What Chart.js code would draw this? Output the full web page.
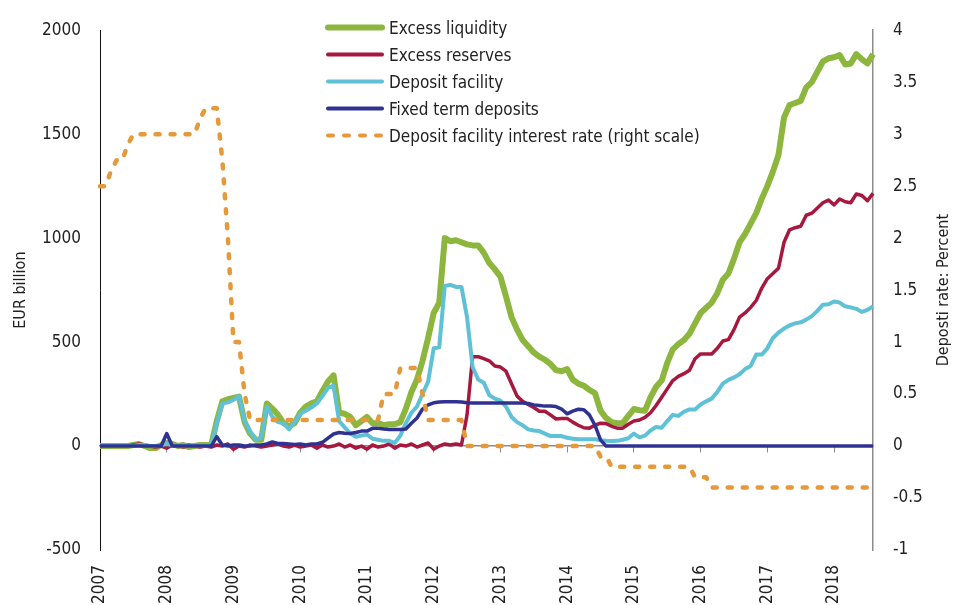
<!DOCTYPE html>
<html><head><meta charset="utf-8">
<script src="https://cdn.jsdelivr.net/npm/chart.js@4"></script>
<style>
html,body{margin:0;padding:0;background:#fff;}
#wrap{position:relative;width:954px;height:605px;overflow:hidden;}
#legend{position:absolute;left:320px;top:14px;font-family:'DejaVu Sans Condensed','DejaVu Sans',sans-serif;font-size:17px;color:#222;}
.row{display:flex;align-items:center;height:27px;white-space:nowrap;}
.row svg{width:66px;height:27px;margin-right:3px;flex:none;}
</style></head><body>
<div id="wrap"><canvas id="c" width="954" height="605"></canvas><div id="legend"></div></div>
<script>
// ---- categories (monthly, Jan 2007 - Aug 2018) ----
const startYear = 2007, monthsCount = 140;
const months = [];
for (let i = 0; i < monthsCount; i++) {
  const y = startYear + Math.floor(i / 12), m = (i % 12) + 1;
  months.push(y + '-' + (m < 10 ? '0' + m : m));
}
const yearTickLabels = ['2007','2008','2009','2010','2011','2012','2013','2014','2015','2016','2017','2018'];
const leftTicks = [-500, 0, 500, 1000, 1500, 2000];
const rightTicks = [-1, -0.5, 0, 0.5, 1, 1.5, 2, 2.5, 3, 3.5, 4];

// ---- series (EUR billion) ----
const excessLiquidity = [
  0,0,0,0,0,0,5,10,0,-10, -10,5,15,10,0,5,-5,0,5,5,
  5,120,215,225,232,238,115,60,30,30,
  205,180,150,110,95,110,160,190,205,215,
  265,310,340,160,155,140,100,120,140,110,
  110,100,105,105,115,180,260,320,410,520,
  640,690,1000,985,990,980,970,965,965,930,
  880,850,815,720,620,560,510,480,450,430,
  415,395,365,360,370,320,300,290,270,255,
  170,135,115,110,110,145,178,172,170,235,
  285,315,400,465,490,510,540,590,640,665,
  690,735,800,830,900,980,1020,1070,1120,1190,
  1250,1320,1400,1580,1640,1650,1660,1725,1750,1800,
  1850,1865,1870,1880,1835,1840,1885,1860,1840,1885
];
const excessReserves = [
  0,0,0,0,0,0,5,10,5,0, -5,0,-10,5,0,-5,5,0,-5,0,
  -5,5,0,10,-15,0,-5,5,0,-5, 0,5,10,0,-5,5,-5,0,5,-10,
  5,-5,0,10,-5,5,-10,0,-15,5, -5,0,10,-10,5,0,10,-5,5,15,
  -15,0,10,5,10,5,150,430,430,420,
  410,385,380,360,300,240,215,200,185,167,
  167,150,130,133,133,115,100,88,86,100,
  110,108,95,86,86,105,120,125,138,160,
  195,235,275,315,335,348,365,420,443,443,
  443,470,505,512,560,620,640,667,700,760,
  805,830,855,980,1040,1050,1057,1110,1120,1145,
  1170,1183,1160,1188,1175,1170,1212,1205,1180,1215
];
const depositFacility = [
  0,0,0,0,0,0,0,5,5,0, 0,5,10,5,0,0,0,0,0,0,
  5,110,205,210,222,240,120,70,30,40,
  190,140,115,110,80,115,155,170,185,205,
  240,280,290,120,90,60,45,50,55,35,
  30,25,25,15,50,110,160,190,250,310,
  470,475,770,775,765,765,620,380,320,305,
  245,228,218,190,140,115,100,80,75,72,
  60,48,48,48,40,35,33,33,33,33,
  28,25,24,25,30,37,60,42,50,75,
  92,88,120,150,145,165,176,176,200,215,
  228,260,300,318,330,345,370,385,440,440,
  470,520,545,565,580,590,595,608,625,650,
  680,682,695,690,672,667,660,645,655,672
];
const fixedTermDeposits = [
  0,0,0,0,0,0,0,0,0,0, 0,0,60,0,0,0,0,0,0,0,
  0,45,5,0,5,5,0,0,5,5,
  10,20,12,12,10,8,10,5,10,10,
  18,38,58,65,62,60,65,72,72,85,
  85,82,80,80,80,82,110,135,178,198,
  208,212,213,213,213,212,208,207,207,207,
  207,207,207,207,207,207,207,205,198,195,
  192,192,190,178,155,168,177,175,150,100,
  30,0,0,0,0,0,0,0,0,0,
  0,0,0,0,0,0,0,0,0,0, 0,0,0,0,0,0,0,0,0,0,
  0,0,0,0,0,0,0,0,0,0, 0,0,0,0,0,0,0,0,0,0
];
// ---- deposit facility rate (percent, right scale) ----
const depositRate = [
  2.5,2.5,2.65,2.75,2.75,2.9,3,3,3,3,
  3,3,3,3,3,3,3,3,3.15,3.25,
  3.25,3.25,2.75,2,1,1,0.5,0.25,0.25,0.25,
  0.25,0.25,0.25,0.25,0.25,0.25,0.25,0.25,0.25,0.25,
  0.25,0.25,0.25,0.25,0.25,0.25,0.25,0.25,0.25,0.25,
  0.25,0.5,0.5,0.5,0.75,0.75,0.75,0.75,0.5,0.25,
  0.25,0.25,0.25,0.25,0.25,0.25,0,0,0,0,
  0,0,0,0,0,0,0,0,0,0,
  0,0,0,0,0,0,0,0,0,0,
  -0.1,-0.1,-0.2,-0.2,-0.2,-0.2,-0.2,-0.2,-0.2,-0.2,
  -0.2,-0.2,-0.2,-0.2,-0.2,-0.2,-0.2,-0.3,-0.3,-0.3,
  -0.4,-0.4,-0.4,-0.4,-0.4,-0.4,-0.4,-0.4,-0.4,-0.4,
  -0.4,-0.4,-0.4,-0.4,-0.4,-0.4,-0.4,-0.4,-0.4,-0.4,
  -0.4,-0.4,-0.4,-0.4,-0.4,-0.4,-0.4,-0.4,-0.4,-0.4
];

const seriesNames = ['Excess liquidity','Excess reserves','Deposit facility','Fixed term deposits','Deposit facility interest rate (right scale)'];
const leftTitle = 'EUR billion';
const rightTitle = 'Deposti rate: Percent';

const GREEN = '#8cb63e', RED = '#a8173e', CYAN = '#5fc1d6', NAVY = '#2f3291', ORANGE = '#e5993a';
const FONT = "'DejaVu Sans Condensed','DejaVu Sans',sans-serif";
const TEXT = '#222';

// legend (HTML)
const legendItems = [
  {name: seriesNames[0], color: GREEN, w: 6, dash: null},
  {name: seriesNames[1], color: RED, w: 4, dash: null},
  {name: seriesNames[2], color: CYAN, w: 4, dash: null},
  {name: seriesNames[3], color: NAVY, w: 4, dash: null},
  {name: seriesNames[4], color: ORANGE, w: 4, dash: '5 11'}
];
const lg = document.getElementById('legend');
legendItems.forEach(it => {
  const row = document.createElement('div'); row.className = 'row';
  row.innerHTML = '<svg viewBox="0 0 66 27"><line x1="8" y1="13.5" x2="62" y2="13.5" stroke="' + it.color +
    '" stroke-width="' + it.w + '" stroke-linecap="round"' + (it.dash ? ' stroke-dasharray="' + it.dash + '"' : '') + '/></svg>';
  const sp = document.createElement('span'); sp.textContent = it.name; row.appendChild(sp);
  lg.appendChild(row);
});

const rightTitlePlugin = {
  id: 'rightTitle',
  afterDraw(chart) {
    const {ctx, chartArea} = chart;
    ctx.save();
    ctx.translate(944, (chartArea.top + chartArea.bottom) / 2);
    ctx.rotate(-Math.PI / 2);
    ctx.font = '16px ' + FONT;
    ctx.fillStyle = TEXT;
    ctx.textAlign = 'center';
    ctx.textBaseline = 'middle';
    ctx.fillText(rightTitle, 0, 0);
    ctx.restore();
  }
};

new Chart(document.getElementById('c'), {
  type: 'line',
  data: {
    labels: months,
    datasets: [
      {label: seriesNames[4], data: depositRate, yAxisID: 'y2', borderColor: ORANGE, borderWidth: 4.5, borderDash: [4, 11], borderCapStyle: 'round'},
      {label: seriesNames[3], data: fixedTermDeposits, yAxisID: 'y', borderColor: NAVY, borderWidth: 3.5},
      {label: seriesNames[2], data: depositFacility, yAxisID: 'y', borderColor: CYAN, borderWidth: 4},
      {label: seriesNames[1], data: excessReserves, yAxisID: 'y', borderColor: RED, borderWidth: 3.5},
      {label: seriesNames[0], data: excessLiquidity, yAxisID: 'y', borderColor: GREEN, borderWidth: 6}
    ]
  },
  options: {
    responsive: false,
    animation: false,
    layout: {padding: {top: 26, left: 0, right: 0, bottom: 0}},
    elements: {point: {radius: 0}, line: {tension: 0, borderJoinStyle: 'round', fill: false}},
    plugins: {legend: {display: false}, tooltip: {enabled: false}},
    scales: {
      x: {
        type: 'category', position: {y: 0}, offset: false,
        grid: {display: true, drawOnChartArea: false, drawTicks: true, tickLength: 6,
               color: c => (c.index % 12 === 0 ? '#8c8c8c' : 'rgba(0,0,0,0)'), lineWidth: 1},
        border: {display: true, color: '#8c8c8c', width: 1.5},
        ticks: {display: false, autoSkip: false}
      },
      xb: {
        type: 'category', position: 'bottom', offset: false,
        grid: {display: false, drawTicks: false},
        border: {display: false},
        ticks: {autoSkip: false, maxRotation: 90, minRotation: 90, padding: 15, color: TEXT,
                font: {family: FONT, size: 17},
                callback: (v, i) => (i % 12 === 0 ? yearTickLabels[i / 12] : null)},
        afterFit: s => { s.height = 55; }
      },
      y: {
        position: 'left', min: -500, max: 2000,
        afterBuildTicks: s => { s.ticks = leftTicks.map(v => ({value: v})); },
        ticks: {padding: 19, color: TEXT, font: {family: FONT, size: 17}, callback: v => String(v)},
        grid: {display: true, drawOnChartArea: false, drawTicks: false},
        border: {display: true, color: '#111', width: 1},
        title: {display: true, text: leftTitle, color: TEXT, font: {family: FONT, size: 16}, padding: {top: 11, bottom: 0}},
        afterFit: s => { s.width = 100; }
      },
      y2: {
        position: 'right', min: -1, max: 4,
        afterBuildTicks: s => { s.ticks = rightTicks.map(v => ({value: v})); },
        ticks: {padding: 20, color: TEXT, font: {family: FONT, size: 17}, callback: v => String(v)},
        grid: {display: true, drawOnChartArea: false, drawTicks: false},
        border: {display: true, color: '#8c8c8c', width: 1.5},
        afterFit: s => { s.width = 81; }
      }
    }
  },
  plugins: [rightTitlePlugin]
});
</script>
</body></html>
